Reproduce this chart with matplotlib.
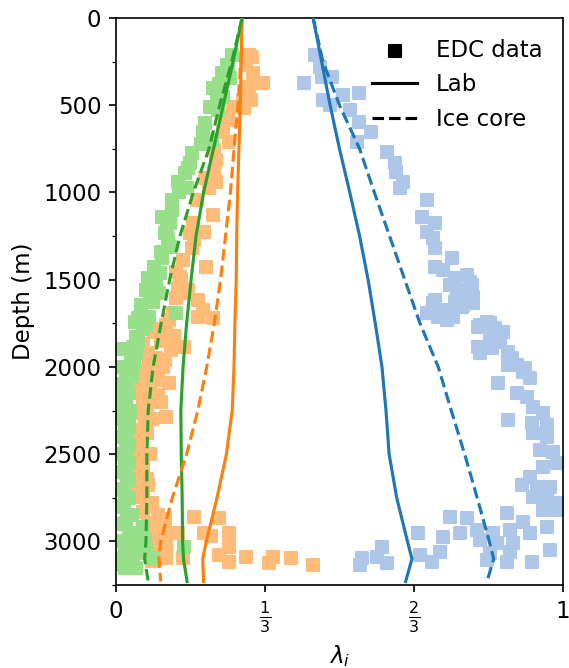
import matplotlib
matplotlib.use("Agg")
import matplotlib.pyplot as plt
import numpy as np

plt.rcParams['font.size'] = 11

# model curves (depth in m, eigenvalues)
model_depth = [0, 250, 500, 750, 1000, 1250, 1500, 1750, 2000, 2250, 2500, 2750, 3000, 3100, 3230]
lab_l1 = [0.441, 0.460, 0.479, 0.500, 0.523, 0.545, 0.564, 0.580, 0.595, 0.604, 0.611, 0.628, 0.652, 0.662, 0.648]
lab_l2 = [0.282, 0.280, 0.278, 0.275, 0.272, 0.270, 0.269, 0.266, 0.264, 0.260, 0.247, 0.226, 0.202, 0.194, 0.196]
lab_l3 = [0.282, 0.262, 0.240, 0.218, 0.196, 0.179, 0.168, 0.158, 0.150, 0.145, 0.146, 0.148, 0.149, 0.151, 0.159]
ice_l1 = [0.441, 0.463, 0.500, 0.545, 0.578, 0.612, 0.646, 0.680, 0.721, 0.750, 0.780, 0.808, 0.835, 0.845, 0.830]
ice_l2 = [0.282, 0.279, 0.273, 0.264, 0.256, 0.245, 0.234, 0.220, 0.203, 0.183, 0.158, 0.126, 0.100, 0.096, 0.100]
ice_l3 = [0.282, 0.259, 0.232, 0.208, 0.173, 0.143, 0.120, 0.101, 0.083, 0.072, 0.069, 0.069, 0.067, 0.064, 0.072]

# EDC measurements
edc1_depth = [212, 281, 373, 338, 338, 470, 499, 441, 430, 527, 596, 654, 711, 768, 831, 883, 940, 975, 1043,
              1141, 1175, 1227, 1261, 1319, 1376, 1428, 1445, 1491, 1473, 1531, 1531, 1559, 1617, 1628, 1628,
              1657, 1691, 1714, 1731, 1703, 1772, 1743, 1777, 1800, 1829, 1886, 1892, 1857, 1915, 1921, 1949,
              1989, 1989, 2007, 1634, 1674, 1645, 1634, 1760, 1749, 1513, 1577, 1599, 1686, 1714,
              2029, 2093, 2064, 2150, 2173, 2230, 2265, 2305, 2322, 2333, 2379, 2402, 2477, 2488, 2551, 2574,
              2631, 2677, 2689, 2689, 2746, 2763, 2780, 2821, 2821, 2861, 2866, 2838, 2889, 2918, 2952, 2975,
              2952, 2935, 2952, 2935, 2952, 2993, 3010, 3010, 3050, 3033, 3061, 3079, 3067, 3061, 3096, 3090,
              3119, 3124, 3136, 3107, 3119, 3119]
edc1_val = [0.445, 0.456, 0.420, 0.461, 0.483, 0.463, 0.479, 0.508, 0.544, 0.523, 0.544, 0.570, 0.539, 0.606,
            0.624, 0.626, 0.642, 0.635, 0.696,
            0.685, 0.714, 0.696, 0.709, 0.714, 0.752, 0.714, 0.731, 0.758, 0.785, 0.747, 0.796, 0.763, 0.714,
            0.758, 0.796, 0.774, 0.696, 0.720, 0.740, 0.752, 0.810, 0.830, 0.848, 0.866, 0.837, 0.810, 0.841,
            0.859, 0.877, 0.814, 0.886, 0.897, 0.877, 0.915, 0.709, 0.731, 0.776, 0.799, 0.814, 0.837, 0.792,
            0.774, 0.799, 0.731, 0.754,
            0.910, 0.855, 0.926, 0.897, 0.919, 0.933, 0.955, 0.877, 0.931, 0.964, 0.933, 0.964, 0.948, 0.978,
            0.987, 0.955, 0.926, 0.908, 0.942, 0.971, 0.933, 0.964, 0.989, 0.955, 0.987, 0.747, 0.785, 0.875,
            0.910, 0.964, 0.676, 0.731, 0.770, 0.808, 0.843, 0.881, 0.926, 0.814, 0.852, 0.888, 0.971, 0.595,
            0.725, 0.680, 0.837, 0.881, 0.550, 0.584, 0.707, 0.606, 0.546, 0.830, 0.875, 0.931]

edc2_depth = [212, 224, 269, 315, 373, 396, 470, 470, 516, 510, 568, 585, 654, 711, 757, 814, 883, 917, 940,
              975, 1043, 1129, 1175, 1227, 1233, 1273, 1319, 1387, 1428, 1456, 1485, 1502, 1548, 1559, 1577,
              1605, 1617, 1674, 1691, 1714, 1720, 1731, 1760, 1800, 1829, 1886, 1903, 1921, 1978, 2001, 2058,
              2093, 2075, 2133, 2161, 2173, 2207, 2287, 2265, 2362, 2477, 2551, 2631, 2677, 2746, 2849, 2895,
              2952, 2952, 2861, 2866, 2952, 2970, 2952, 3033, 3033, 3096, 3096, 3079, 3119, 3090, 3124, 3090,
              3096, 3136, 3010, 3067, 1850, 1950, 2030, 2110, 2240, 2330, 2420, 2520, 2600, 2700, 2800, 2900,
              1780, 1820, 1870, 1960, 2020, 2060, 2150, 2200, 2260, 2300, 2380, 2440, 2500, 2560, 2640, 2720,
              2780, 2830, 2870, 2930, 2980, 3040, 3110]
edc2_val = [0.298, 0.304, 0.291, 0.306, 0.329, 0.298, 0.284, 0.302, 0.286, 0.262, 0.244, 0.251, 0.239, 0.253,
            0.219, 0.224, 0.219, 0.199, 0.224, 0.208, 0.181, 0.217, 0.172, 0.197, 0.166, 0.174, 0.170, 0.150,
            0.201, 0.134, 0.143, 0.145, 0.139, 0.161, 0.154, 0.134, 0.183, 0.195, 0.128, 0.183, 0.217, 0.119,
            0.112, 0.085, 0.107, 0.152, 0.123, 0.072, 0.074, 0.105, 0.063, 0.119, 0.089, 0.056, 0.094, 0.089,
            0.060, 0.112, 0.038, 0.056, 0.040, 0.038, 0.051, 0.072, 0.049, 0.094, 0.072, 0.119, 0.139, 0.174,
            0.230, 0.197, 0.213, 0.253, 0.253, 0.112, 0.150, 0.112, 0.230, 0.253, 0.291, 0.342, 0.351, 0.391,
            0.441, 0.072, 0.056, 0.100, 0.090, 0.080, 0.070, 0.070, 0.065, 0.050, 0.060, 0.045, 0.060, 0.070,
            0.100,
            0.090, 0.130, 0.060, 0.110, 0.060, 0.095, 0.075, 0.100, 0.055, 0.080, 0.070, 0.045, 0.075, 0.060,
            0.070, 0.045, 0.080, 0.060, 0.110, 0.085, 0.100, 0.090, 0.080]

edc3_depth = [212, 269, 315, 344, 401, 453, 510, 527, 654, 699, 774, 831, 889, 940, 975, 1043, 1141, 1175,
              1233, 1273, 1313, 1376, 1428, 1462, 1491, 1513, 1559, 1577, 1645, 1628, 1691, 1720, 1714, 1743,
              1760, 1829, 1886, 1943, 2001, 2058, 2115, 2161, 2173, 2247, 2322, 2419, 2517, 2608, 2706, 2803,
              2895, 2952, 3010, 3050, 3096, 3124, 3033, 3096, 2040, 2090, 2200, 2280, 2360, 2460, 2560, 2650,
              2750, 2850, 2980, 3070, 3150, 1600, 1780, 1860, 1920, 1970, 300, 380, 470, 600, 720, 860, 1000,
              1100, 1200, 1340,
              1900, 1950, 2000, 2050, 2100, 2150, 2200, 2250, 2300, 2350, 2400, 2450, 2500, 2550, 2600, 2650,
              2700, 2750, 2800, 2850, 2900, 2950, 3000, 3050, 3100, 3150, 2920, 2990, 3060, 3130]
edc3_val = [0.259, 0.248, 0.237, 0.255, 0.217, 0.239, 0.210, 0.228, 0.195, 0.215, 0.170, 0.166, 0.154, 0.139,
            0.159, 0.125, 0.103, 0.121, 0.110, 0.116, 0.121, 0.103, 0.085, 0.098, 0.072, 0.089, 0.067, 0.096,
            0.056, 0.083, 0.134, 0.049, 0.074, 0.043, 0.067, 0.045, 0.038, 0.034, 0.027, 0.022, 0.018, 0.016,
            0.022, 0.018, 0.029, 0.022, 0.022, 0.022, 0.018, 0.018, 0.022, 0.029, 0.051, 0.067, 0.038, 0.016,
            0.152, 0.083, 0.030, 0.025, 0.020, 0.025, 0.020, 0.025, 0.020, 0.025, 0.020, 0.025, 0.035, 0.020,
            0.020, 0.075, 0.060, 0.050, 0.045, 0.040, 0.250, 0.230, 0.225, 0.200, 0.190, 0.160, 0.140, 0.125,
            0.115, 0.100,
            0.012, 0.040, 0.014, 0.035, 0.012, 0.030, 0.010, 0.032, 0.012, 0.028, 0.010, 0.030, 0.012, 0.028,
            0.010, 0.030, 0.012, 0.030, 0.012, 0.035, 0.012, 0.045, 0.012, 0.040, 0.012, 0.045, 0.060, 0.065,
            0.055, 0.012]

fig = plt.figure(figsize=(569 / 150, 668 / 150), dpi=150)
ax = fig.add_axes([116 / 569, 1 - 585 / 668, (563 - 116) / 569, (585 - 18) / 668])

ax.scatter(edc1_val, edc1_depth, marker='s', color='#aec7e8', zorder=1)
ax.scatter(edc2_val, edc2_depth, marker='s', color='#ffbb78', zorder=1)
ax.scatter(edc3_val, edc3_depth, marker='s', color='#98df8a', zorder=1)

ax.plot(lab_l1, model_depth, color='tab:blue', zorder=3)
ax.plot(lab_l2, model_depth, color='tab:orange', zorder=3)
ax.plot(lab_l3, model_depth, color='tab:green', zorder=3)
ax.plot(ice_l1, model_depth, color='tab:blue', ls='--', zorder=3)
ax.plot(ice_l2, model_depth, color='tab:orange', ls='--', zorder=3)
ax.plot(ice_l3, model_depth, color='tab:green', ls='--', zorder=3)

ax.set_xlim(0, 1)
ax.set_ylim(3250, 0)
ax.set_xticks([0, 1 / 3, 2 / 3, 1])
ax.set_xticklabels(['0', r'$\frac{1}{3}$', r'$\frac{2}{3}$', '1'])
ax.set_yticks(np.arange(0, 3001, 500))
ax.set_yticks(np.arange(0, 3251, 250), minor=True)
ax.set_xlabel(r'$\lambda_i$')
ax.set_ylabel('Depth (m)')

h1 = ax.scatter([], [], marker='s', color='k', label='EDC data')
h2, = ax.plot([], [], color='k', label='Lab')
h3, = ax.plot([], [], color='k', ls='--', label='Ice core')
ax.legend(handles=[h1, h2, h3], loc='upper right', frameon=False)

fig.savefig('out.png', dpi=150)
